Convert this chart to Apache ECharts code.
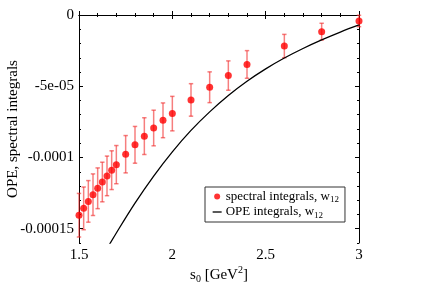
<!DOCTYPE html>
<html>
<head>
<meta charset="utf-8">
<script src="https://cdn.jsdelivr.net/npm/echarts@6/dist/echarts.min.js"></script>
<style>html,body{margin:0;padding:0;background:#fff;}#c{width:431px;height:304px;}</style>
</head>
<body>
<div id="c"></div>
<script>
// ---- data ----
const sValues = [1.5, 1.525, 1.55, 1.575, 1.6, 1.625, 1.65, 1.675, 1.7, 1.75, 1.8, 1.85, 1.9, 1.95, 2.0, 2.1, 2.2, 2.3, 2.4, 2.6, 2.8, 3.0];
const spectralValues = [-14.05e-5, -13.57e-5, -13.08e-5, -12.61e-5, -12.16e-5, -11.72e-5, -11.29e-5, -10.89e-5, -10.50e-5, -9.77e-5, -9.11e-5, -8.50e-5, -7.93e-5, -7.39e-5, -6.92e-5, -5.96e-5, -5.07e-5, -4.25e-5, -3.47e-5, -2.18e-5, -1.17e-5, -0.42e-5];
const spectralErrors = [1.53e-5, 1.50e-5, 1.46e-5, 1.46e-5, 1.43e-5, 1.39e-5, 1.39e-5, 1.36e-5, 1.34e-5, 1.31e-5, 1.29e-5, 1.29e-5, 1.25e-5, 1.22e-5, 1.21e-5, 1.14e-5, 1.08e-5, 1.03e-5, 0.97e-5, 0.82e-5, 0.59e-5, 0.40e-5];
const opeS = [1.6, 1.7, 1.8, 1.9, 2.0, 2.1, 2.2, 2.3, 2.4, 2.5, 2.6, 2.7, 2.8, 2.9, 3.0];
const opeValues = [-17.5e-5, -15.3e-5, -13.2e-5, -11.3e-5, -9.6e-5, -8.1e-5, -6.8e-5, -5.65e-5, -4.65e-5, -3.78e-5, -3.02e-5, -2.35e-5, -1.75e-5, -1.2e-5, -0.7e-5];
const xMajorTicks = [1.5, 2, 2.5, 3];
const xMinorTicks = [1.6, 1.7, 1.8, 1.9, 2.1, 2.2, 2.3, 2.4, 2.6, 2.7, 2.8, 2.9];
const yMajorTicks = [0, -5e-5, -10e-5, -15e-5];
const yTickLabels = ['0', '-5e-05', '-0.0001', '-0.00015'];
const yMinorTicks = [-1e-5, -2e-5, -3e-5, -4e-5, -6e-5, -7e-5, -8e-5, -9e-5, -11e-5, -12e-5, -13e-5, -14e-5, -16e-5];
const seriesNames = ['spectral', 'OPE'];
const legendLabels = {spectral: 'spectral integrals, w{sub|12}', OPE: 'OPE integrals, w{sub|12}'};

// ---- chart ----
const FONT = 'Liberation Serif';
const axisColor = '#000';
function yLabel(v) {
  for (let i = 0; i < yMajorTicks.length; i++) {
    if (Math.abs(yMajorTicks[i] - v) < 1e-12) return yTickLabels[i];
  }
  return '';
}
const yRange = {min: -16e-5, max: 0};
function yAx(pos, major) {
  return Object.assign({
    type: 'value', position: pos, gridIndex: 0,
    axisLine: {show: major, lineStyle: {color: axisColor, width: 1}},
    axisTick: {show: true, inside: true, length: major ? 4 : 2, customValues: major ? yMajorTicks : yMinorTicks, lineStyle: {color: axisColor, width: 1}},
    axisLabel: {show: major && pos === 'left', customValues: yMajorTicks, formatter: yLabel, margin: 5, fontFamily: FONT, fontSize: 15, color: '#000'},
    splitLine: {show: false}
  }, yRange);
}
function xAx(pos, major) {
  return {
    type: 'value', position: pos, gridIndex: 0, min: 1.5, max: 3,
    axisLine: {show: major, lineStyle: {color: axisColor, width: 1}},
    axisTick: {show: true, inside: true, length: major ? 4 : 2, customValues: major ? xMajorTicks : xMinorTicks, lineStyle: {color: axisColor, width: 1}},
    axisLabel: {show: major && pos === 'bottom', customValues: xMajorTicks, margin: 5, fontFamily: FONT, fontSize: 15, color: '#000'},
    splitLine: {show: false}
  };
}
const xAxes = [xAx('bottom', true), xAx('bottom', false), xAx('top', true), xAx('top', false)];
xAxes[0].name = 's{sub|0} [GeV{sup|2}]';
xAxes[0].nameLocation = 'middle';
xAxes[0].nameGap = 22;
xAxes[0].nameMoveOverlap = false;
xAxes[0].nameTextStyle = {fontFamily: FONT, fontSize: 15, color: '#000', lineHeight: 20,
  rich: {sub: {fontFamily: FONT, fontSize: 10, padding: [9, 0, 0, 0], color: '#000'},
         sup: {fontFamily: FONT, fontSize: 10, padding: [0, 0, 9, 0], color: '#000'}}};
const yAxes = [yAx('left', true), yAx('left', false), yAx('right', true), yAx('right', false)];
yAxes[0].name = 'OPE, spectral integrals';
yAxes[0].nameLocation = 'middle';
yAxes[0].nameGap = 58;
yAxes[0].nameMoveOverlap = false;
yAxes[0].nameTextStyle = {fontFamily: FONT, fontSize: 15, color: '#000'};

const errData = sValues.map((s, i) => [s, spectralValues[i], spectralErrors[i]]);
const chart = echarts.init(document.getElementById('c'), null, {renderer: 'canvas'});
chart.setOption({
  animation: false,
  backgroundColor: '#fff',
  grid: {left: 79, right: 72, top: 15, bottom: 61, containLabel: false, outerBoundsMode: 'none'},
  xAxis: xAxes,
  yAxis: yAxes,
  legend: {
    left: 205, top: 187, orient: 'vertical', itemGap: 1, itemWidth: 9, itemHeight: 6,
    borderColor: '#333', borderWidth: 1, borderRadius: 0, padding: [3, 6, 2, 7], backgroundColor: '#fff',
    data: [{name: seriesNames[0], icon: 'circle'},
           {name: seriesNames[1], itemStyle: {opacity: 0}, lineStyle: {color: '#000', width: 1.3, opacity: 1}}],
    formatter: n => legendLabels[n],
    textStyle: {fontFamily: FONT, fontSize: 13, color: '#000', padding: [0, 0, 0, -1],
      rich: {sub: {fontFamily: FONT, fontSize: 9, padding: [7, 0, 0, 0], color: '#000'}}}
  },
  series: [
    {
      name: 'err', type: 'custom', xAxisIndex: 0, yAxisIndex: 0, data: errData, z: 2,
      encode: {x: 0, y: 1},
      renderItem: function (params, api) {
        const x = api.value(0), y = api.value(1), e = api.value(2);
        const t = api.coord([x, y + e]);
        const b = api.coord([x, y - e]);
        const hw = 2.2;
        const st = {stroke: 'rgba(240,40,40,0.6)', lineWidth: 1.5};
        return {type: 'group', children: [
          {type: 'line', shape: {x1: t[0], y1: t[1], x2: b[0], y2: b[1]}, style: st},
          {type: 'line', shape: {x1: t[0] - hw, y1: t[1], x2: t[0] + hw, y2: t[1]}, style: st},
          {type: 'line', shape: {x1: b[0] - hw, y1: b[1], x2: b[0] + hw, y2: b[1]}, style: st}
        ]};
      }
    },
    {
      name: seriesNames[0], type: 'scatter', xAxisIndex: 0, yAxisIndex: 0, z: 3,
      data: sValues.map((s, i) => [s, spectralValues[i]]),
      symbol: 'circle', symbolSize: 7, itemStyle: {color: '#ff0000'}
    },
    {
      name: seriesNames[1], type: 'line', xAxisIndex: 0, yAxisIndex: 0, z: 2,
      data: opeS.map((s, i) => [s, opeValues[i]]),
      symbol: 'none', smooth: 0.4, clip: true,
      lineStyle: {color: '#000', width: 1.3}, itemStyle: {color: '#000'}
    }
  ]
});
</script>
</body>
</html>
